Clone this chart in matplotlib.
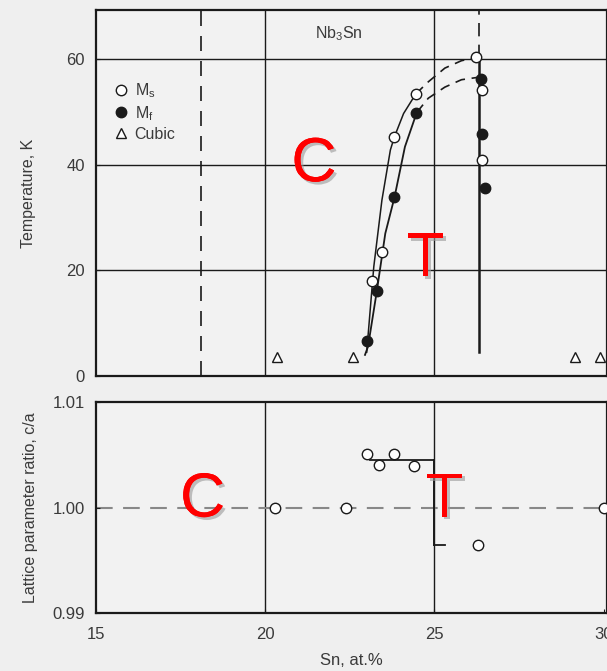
import matplotlib.pyplot as plt
import matplotlib.patheffects as pe
from matplotlib.lines import Line2D

plt.rcParams['font.family'] = ['Liberation Sans', 'DejaVu Sans']
plt.rcParams['mathtext.fontset'] = 'custom'
plt.rcParams['mathtext.rm'] = 'Liberation Sans'
plt.rcParams['mathtext.it'] = 'Liberation Sans'

# ---- top panel data (Sn at.%, temperature K) ----
ms_sn = [26.24, 24.45, 23.82, 23.44, 23.15, 26.40, 26.42]
ms_t = [60.4, 53.4, 45.3, 23.5, 18.0, 54.2, 40.9]
mf_sn = [26.38, 24.47, 23.82, 23.30, 23.00, 26.40, 26.50]
mf_t = [56.3, 49.8, 33.9, 16.1, 6.6, 45.8, 35.6]
cubic_sn = [20.35, 22.60, 29.15, 29.90]
cubic_t = [3.6, 3.6, 3.6, 3.6]

# curves
ms_curve_sn = [23.00, 23.21, 23.45, 23.70, 23.82, 24.09, 24.45]
ms_curve_t = [4.5, 20.7, 33.3, 42.8, 45.3, 49.7, 53.4]
ms_dash_sn = [24.45, 24.82, 25.31, 25.80, 26.24]
ms_dash_t = [53.4, 55.7, 58.3, 59.7, 60.3]
mf_curve_sn = [22.95, 23.04, 23.30, 23.55, 23.82, 24.13, 24.48]
mf_curve_t = [4.0, 5.6, 16.1, 27.0, 33.8, 43.4, 49.9]
mf_dash_sn = [24.48, 24.82, 25.31, 25.80, 26.34]
mf_dash_t = [49.9, 52.6, 54.7, 56.1, 56.6]
boundary_sn = 26.32
boundary_t = (4.5, 60.3)
cubic_limit_sn = 18.1

# ---- bottom panel data (Sn at.%, c/a) ----
ca_sn = [23.00, 23.35, 23.80, 24.40, 20.30, 22.40, 26.30, 30.00]
ca_val = [1.0051, 1.0040, 1.0051, 1.0039, 1.0000, 1.0000, 0.9964, 1.0000]
ca_upper_sn = [23.1, 25.0]
ca_upper_val = [1.0045, 1.0045]
ca_lower_sn = [25.0, 25.3]
ca_lower_val = [0.9964, 0.9964]

bg = '#efefef'
ink = '#1a1a1a'
txt = '#3a3a3a'
letter_font = ['Liberation Sans Narrow', 'Liberation Sans']

fig = plt.figure(figsize=(6.07, 6.71), dpi=100, facecolor=bg)
ax1 = fig.add_axes([0.158, 0.4396, 0.842, 0.5455], facecolor='#f2f2f2')
ax2 = fig.add_axes([0.158, 0.0864, 0.842, 0.3145], facecolor='#f2f2f2')

shadow = [pe.withSimplePatchShadow(offset=(2, -2), shadow_rgbFace='#999999', alpha=0.6), pe.Normal()]

# top panel
ax1.set_xlim(15, 30.1)
ax1.set_ylim(0, 69.3)
for y in [20, 40, 60]:
    ax1.axhline(y, color=ink, lw=1.0, zorder=1)
for x in [20, 25]:
    ax1.axvline(x, color=ink, lw=1.0, zorder=1)
ax1.axvline(cubic_limit_sn, color=ink, lw=1.2, dashes=(9, 6), zorder=1)
ax1.plot([boundary_sn, boundary_sn], [boundary_t[1], 69.3], color=ink, lw=1.2, dashes=(8, 5), zorder=2)
ax1.plot([boundary_sn, boundary_sn], list(boundary_t), color=ink, lw=1.8, zorder=2)

ax1.plot(ms_curve_sn, ms_curve_t, color=ink, lw=1.1, zorder=2)
ax1.plot(ms_dash_sn, ms_dash_t, color=ink, lw=1.2, dashes=(6, 4), zorder=2)
ax1.plot(mf_curve_sn, mf_curve_t, color=ink, lw=1.3, zorder=2)
ax1.plot(mf_dash_sn, mf_dash_t, color=ink, lw=1.2, dashes=(6, 4), zorder=2)

ax1.plot(mf_sn, mf_t, 'o', ms=7.5, mfc=ink, mec=ink, ls='none', zorder=3)
ax1.plot(ms_sn, ms_t, 'o', ms=7.5, mfc='white', mec=ink, mew=1.0, ls='none', zorder=4)
ax1.plot(cubic_sn, cubic_t, '^', ms=7, mfc='white', mec=ink, mew=1.0, ls='none', zorder=3)

ax1.set_yticks([0, 20, 40, 60])
ax1.set_xticks([])
ax1.tick_params(direction='in', length=3, color=ink, labelsize=12, labelcolor=txt, pad=8)
ax1.set_ylabel('Temperature, K', fontsize=11.5, color=txt, labelpad=22)
ax1.text(0.475, 0.935, 'Nb$_3$Sn', transform=ax1.transAxes, ha='center', va='center',
         fontsize=11.5, color=txt)

handles = [
    Line2D([], [], marker='o', ls='none', ms=7.5, mfc='white', mec=ink, label='M$_s$'),
    Line2D([], [], marker='o', ls='none', ms=7.5, mfc=ink, mec=ink, label='M$_f$'),
    Line2D([], [], marker='^', ls='none', ms=7, mfc='white', mec=ink, label='Cubic'),
]
ax1.legend(handles=handles, loc='upper left', bbox_to_anchor=(0.035, 0.805), frameon=False,
           fontsize=11.5, borderpad=0, borderaxespad=0, handlelength=0.9, handletextpad=0.4,
           labelspacing=0.25, labelcolor=txt)

ax1.text(21.44, 40.0, 'C', fontsize=45, color='red', ha='center', va='center',
         family=letter_font, path_effects=shadow)
ax1.text(24.74, 22.0, 'T', fontsize=45, color='red', ha='center', va='center',
         family=letter_font, path_effects=shadow)

# bottom panel
ax2.set_xlim(15, 30.1)
ax2.set_ylim(0.99, 1.01)
for x in [20, 25]:
    ax2.axvline(x, color=ink, lw=1.0, zorder=1)
ax2.axhline(1.0, color='#888888', lw=1.5, dashes=(8, 5), zorder=1)
ax2.plot([25, 25], [ca_lower_val[0], ca_upper_val[0]], color=ink, lw=1.4, zorder=2)
ax2.plot(ca_upper_sn, ca_upper_val, color=ink, lw=1.3, zorder=2)
ax2.plot(ca_lower_sn, ca_lower_val, color=ink, lw=1.3, zorder=2)
ax2.plot(ca_sn, ca_val, 'o', ms=7.5, mfc='white', mec=ink, mew=1.0, ls='none', zorder=3)

ax2.set_xticks([15, 20, 25, 30])
ax2.set_yticks([0.99, 1.00, 1.01])
ax2.set_yticklabels(['0.99', '1.00', '1.01'])
ax2.tick_params(direction='in', length=3, color=ink, labelsize=12, labelcolor=txt, pad=8)
ax2.tick_params(axis='x', pad=10)
ax2.set_xlabel('Sn, at.%', fontsize=12, color=txt, labelpad=8)
ax2.set_ylabel('Lattice parameter ratio, c/a', fontsize=11.5, color=txt, labelpad=10)

ax2.text(18.15, 1.0007, 'C', fontsize=45, color='red', ha='center', va='center',
         family=letter_font, path_effects=shadow)
ax2.text(25.3, 1.0007, 'T', fontsize=45, color='red', ha='center', va='center',
         family=letter_font, path_effects=shadow)

for ax in (ax1, ax2):
    for s in ax.spines.values():
        s.set_color(ink)
        s.set_linewidth(1.6)

fig.savefig('out.png', dpi=100, facecolor=bg)
